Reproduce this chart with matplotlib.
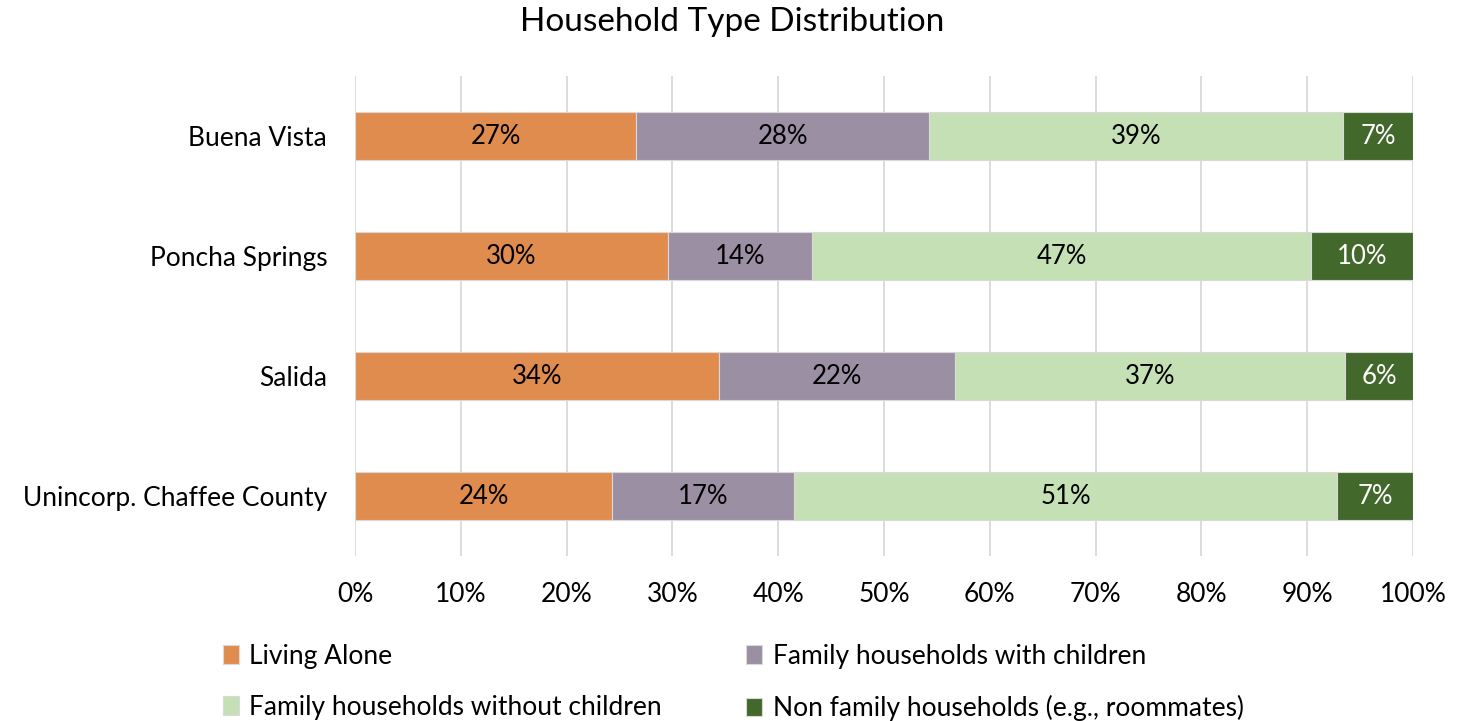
import matplotlib.pyplot as plt
import numpy as np

plt.rcParams['font.family'] = ['Lato', 'DejaVu Sans']

categories = ["Buena Vista", "Poncha Springs", "Salida", "Unincorp. Chaffee County"]
series_names = ["Living Alone", "Family households with children",
                "Family households without children", "Non family households (e.g., roommates)"]
living_alone = [26.6, 29.6, 34.4, 24.3]
with_children = [27.7, 13.6, 22.3, 17.2]
without_children = [39.1, 47.2, 36.9, 51.3]
non_family = [6.6, 9.6, 6.4, 7.2]

colors = ["#E08C4E", "#9A8FA3", "#C5E0B4", "#43682B"]
label_colors = ["black", "black", "black", "white"]

fig = plt.figure(figsize=(14.65, 7.21), dpi=100)
ax = fig.add_axes([355 / 1465, 1 - 556 / 721, 1058 / 1465, 480 / 721])

y = np.arange(len(categories))
left = np.zeros(len(categories))
handles = []
for vals, name, c, lc in zip([living_alone, with_children, without_children, non_family],
                             series_names, colors, label_colors):
    vals = np.array(vals)
    bars = ax.barh(y, vals, left=left, height=0.4, color=c, edgecolor="#D9D9D9",
                   linewidth=0.8, label=name, zorder=3)
    ax.bar_label(bars, labels=[f"{v:.0f}%" for v in vals], label_type='center',
                 color=lc, fontsize=18.5)
    handles.append(bars)
    left += vals

ax.set_xlim(0, 100)
ax.set_ylim(len(categories) - 0.5, -0.5)
ax.set_yticks(y)
ax.set_yticklabels(categories, fontsize=19)
ax.set_xticks(np.arange(0, 101, 10))
ax.set_xticklabels([f"{t}%" for t in range(0, 101, 10)], fontsize=19)
ax.tick_params(length=0)
ax.tick_params(axis='x', pad=19)
ax.tick_params(axis='y', pad=20)
ax.grid(axis='x', color="#D9D9D9", linewidth=1.3, zorder=0)
for s in ax.spines.values():
    s.set_visible(False)

fig.suptitle("Household Type Distribution", fontsize=24, y=0.99)

# row-wise legend order like the original
order = [0, 2, 1, 3]
fig.legend(handles=[handles[i] for i in order], labels=[series_names[i] for i in order],
           ncol=2, loc='lower left', bbox_to_anchor=(199 / 1465, -0.033), frameon=False,
           fontsize=19, handlelength=0.6, handleheight=0.7, handletextpad=0.4,
           columnspacing=3.2, labelspacing=1.0)

plt.savefig("out.png", dpi=100)
